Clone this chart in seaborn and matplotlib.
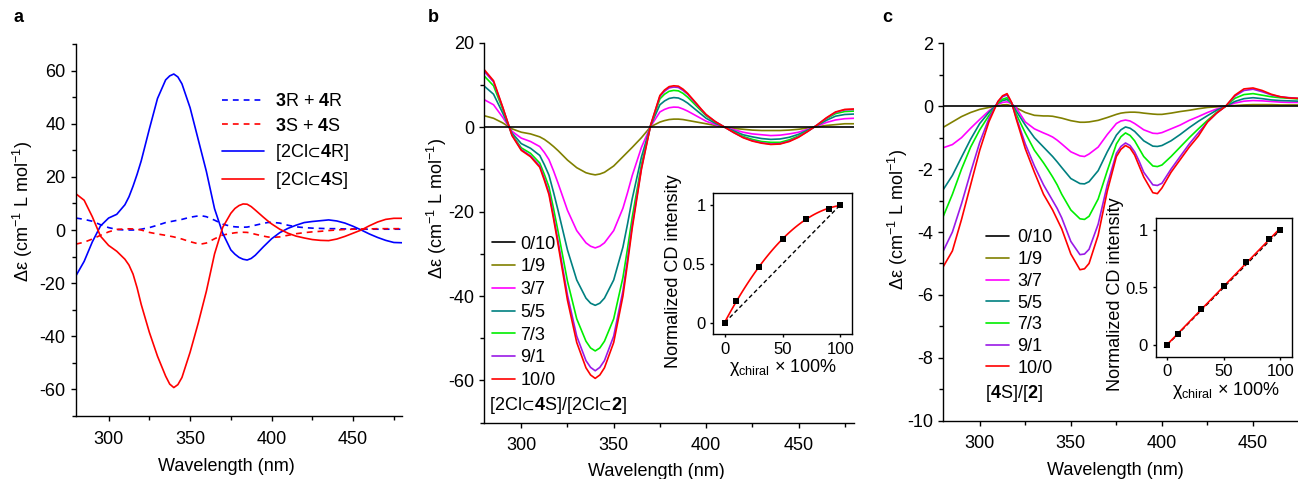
import matplotlib
matplotlib.use("Agg")
import matplotlib.pyplot as plt
from matplotlib.ticker import MultipleLocator
import seaborn as sns

# ---------------- data ----------------
wavelength = [280, 285, 290, 295, 300, 305, 310, 312.5, 315, 317.5,
              320, 325, 330, 335, 337.5, 340, 342.5, 345, 350, 355,
              357.5, 360, 365, 370, 375, 377.5, 380, 382.5, 385, 387.5,
              390, 395, 397.5, 400,
              405, 410, 415, 420, 425, 430, 435, 440, 445, 450, 455, 460, 465, 470, 475, 480]

# panel a
a_3R4R = [4.5, 4.0, 3.3, 2.0, 0.9, 0.2, 0.0, 0.0, 0.0, 0.1,
          0.3, 0.9, 1.8, 2.8, 3.1, 3.4, 3.7, 4.0, 4.8, 5.3,
          5.3, 5.0, 3.7, 2.2, 1.4, 1.2, 1.1, 1.05, 1.1, 1.4,
          1.8, 2.5, 2.8, 2.9,
          2.6, 1.8, 1.2, 0.9, 0.7, 0.6, 0.5, 0.5, 0.4, 0.4, 0.3, 0.3, 0.3, 0.3, 0.3, 0.3]
a_3S4S = [-5.3, -4.6, -3.4, -2.0, -0.7, 0.2, 0.4, 0.45, 0.4, 0.25,
          0.0, -0.9, -1.5, -2.0, -2.3, -2.6, -3.0, -3.4, -4.4, -5.2,
          -5.2, -4.9, -3.3, -1.9, -1.3, -1.05, -0.9, -0.85, -0.9, -1.2,
          -1.6, -2.3, -2.6, -2.8,
          -2.6, -2.0, -1.4, -1.0, -0.7, -0.5, -0.2, 0.0, 0.2, 0.3, 0.4, 0.4, 0.5, 0.5, 0.5, 0.5]
a_4R = [-17.2, -11.8, -4.5, 1.5, 4.5, 5.9, 9.5, 12.5, 16.5, 21.0,
        26.0, 38.0, 49.5, 56.5, 58.0, 58.7, 57.6, 55.0, 46.0, 34.0,
        28.0, 22.0, 8.0, -1.2, -7.5, -9.1, -10.3, -11.0, -11.3, -10.7,
        -9.5, -6.3, -4.8, -3.3,
        -1.0, 0.6, 1.8, 2.8, 3.2, 3.5, 3.8, 3.4, 2.6, 1.4, 0.0, -1.5, -2.8, -3.9, -4.7, -4.8]
a_4S = [13.6, 11.2, 5.0, -2.3, -5.8, -8.0, -11.0, -13.2, -16.6, -21.8,
        -28.0, -38.5, -47.5, -55.0, -58.0, -59.3, -58.2, -55.5, -46.0, -35.0,
        -29.0, -23.0, -9.0, 1.0, 6.3, 8.1, 9.2, 9.8, 9.7, 8.8,
        7.5, 4.8, 3.5, 2.3,
        0.3, -1.2, -2.3, -3.0, -3.6, -3.9, -4.0, -3.4, -2.4, -1.2, 0.0, 1.6, 3.0, 4.0, 4.4, 4.4]
a_labels = [r"$\mathbf{3}$R + $\mathbf{4}$R", r"$\mathbf{3}$S + $\mathbf{4}$S",
            r"[2Cl$\!\subset\!\mathbf{4}$R]", r"[2Cl$\!\subset\!\mathbf{4}$S]"]

# panel b  ([2Cl⊂4S]/[2Cl⊂2] ratios)
ratio_labels = ["0/10", "1/9", "3/7", "5/5", "7/3", "9/1", "10/0"]
b_0 = [0.0] * 50
b_10 = [2.7, 2.1, 1.0, -0.4, -1.2, -1.6, -2.3, -2.9, -3.7, -4.6,
        -5.6, -7.8, -9.6, -10.8, -11.1, -11.3, -11.1, -10.7, -9.2, -7.0,
        -5.9, -4.8, -2.5, 0.1, 1.2, 1.55, 1.8, 1.9, 1.9, 1.8,
        1.6, 1.2, 1.0, 0.8,
        0.4, 0.0, -0.3, -0.5, -0.7, -0.8, -0.8, -0.8, -0.7, -0.5, -0.2, 0.1, 0.4, 0.6, 0.8, 0.8]
b_30 = [6.5, 5.3, 2.3, -1.0, -2.6, -3.4, -4.6, -6.0, -7.7, -10.4,
        -13.4, -19.7, -24.5, -27.4, -28.2, -28.6, -28.2, -27.4, -24.5, -19.2,
        -15.5, -11.5, -4.8, 0.2, 3.6, 4.2, 4.6, 4.75, 4.7, 4.3,
        3.8, 2.6, 2.0, 1.4,
        0.6, 0.0, -0.6, -1.2, -1.6, -1.8, -2.0, -1.9, -1.6, -1.2, -0.5, 0.2, 1.1, 1.7, 2.0, 2.1]
b_50 = [9.7, 7.8, 3.3, -1.4, -3.9, -5.0, -6.7, -8.9, -11.4, -15.5,
        -19.9, -29.1, -36.2, -40.5, -41.7, -42.2, -41.7, -40.5, -36.2, -28.4,
        -22.9, -17.0, -7.1, 0.4, 5.3, 6.2, 6.8, 7.0, 6.9, 6.4,
        5.7, 3.9, 3.0, 2.1,
        0.9, 0.0, -0.9, -1.8, -2.3, -2.7, -2.9, -2.8, -2.4, -1.7, -0.7, 0.4, 1.6, 2.6, 3.0, 3.1]
b_70 = [12.1, 9.8, 4.2, -1.8, -4.9, -6.2, -8.5, -11.2, -14.2, -19.4,
        -24.9, -36.5, -45.4, -50.7, -52.3, -53.0, -52.3, -50.7, -45.4, -35.6,
        -28.7, -21.4, -8.9, 0.4, 6.7, 7.8, 8.5, 8.7, 8.6, 8.0,
        7.1, 4.9, 3.8, 2.7,
        1.2, 0.0, -1.2, -2.2, -2.9, -3.4, -3.6, -3.6, -3.0, -2.1, -0.9, 0.4, 2.0, 3.2, 3.7, 3.8]
b_90 = [13.2, 10.7, 4.6, -1.9, -5.3, -6.8, -9.2, -12.2, -15.5, -21.2,
        -27.2, -39.8, -49.5, -55.3, -56.9, -57.7, -56.9, -55.3, -49.5, -38.8,
        -31.2, -23.3, -9.7, 0.5, 7.3, 8.5, 9.3, 9.5, 9.4, 8.7,
        7.8, 5.3, 4.1, 2.9,
        1.3, 0.0, -1.3, -2.4, -3.2, -3.7, -4.0, -3.9, -3.3, -2.3, -1.0, 0.5, 2.1, 3.5, 4.1, 4.2]
b_100 = [13.6, 11.0, 4.7, -2.0, -5.5, -7.0, -9.5, -12.6, -16.0, -21.8,
         -28.0, -41.0, -51.0, -57.0, -58.7, -59.5, -58.7, -57.0, -51.0, -40.0,
         -32.2, -24.0, -10.0, 0.5, 7.5, 8.8, 9.6, 9.8, 9.7, 9.0,
         8.0, 5.5, 4.2, 3.0,
         1.3, 0.0, -1.3, -2.5, -3.3, -3.8, -4.1, -4.0, -3.4, -2.4, -1.0, 0.5, 2.2, 3.6, 4.2, 4.3]

# panel c  ([4S]/[2] ratios)
c_0 = [0.0] * 50
c_10 = [-0.67, -0.5, -0.33, -0.2, -0.1, -0.04, 0.01, 0.04, 0.05, 0.01,
        -0.05, -0.2, -0.29, -0.31, -0.31, -0.32, -0.35, -0.38, -0.46, -0.51,
        -0.51, -0.5, -0.45, -0.36, -0.26, -0.22, -0.2, -0.19, -0.19, -0.2,
        -0.22, -0.25, -0.26, -0.26,
        -0.22, -0.17, -0.13, -0.08, -0.04, -0.02, 0.0, 0.02, 0.04, 0.05, 0.05, 0.05, 0.04, 0.04, 0.04, 0.04]
c_30 = [-1.32, -1.22, -1.0, -0.7, -0.42, -0.15, 0.06, 0.12, 0.14, 0.08,
        -0.05, -0.5, -0.72, -0.85, -0.91, -0.98, -1.08, -1.2, -1.45, -1.58,
        -1.6, -1.52, -1.3, -0.9, -0.55, -0.47, -0.44, -0.47, -0.55, -0.65,
        -0.75, -0.86, -0.87, -0.84,
        -0.72, -0.6, -0.45, -0.33, -0.2, -0.09, 0.0, 0.1, 0.16, 0.18, 0.17, 0.15, 0.13, 0.12, 0.12, 0.12]
c_50 = [-2.65, -2.2, -1.62, -1.05, -0.55, -0.2, 0.1, 0.18, 0.21, 0.1,
        -0.15, -0.6, -1.0, -1.3, -1.45, -1.6, -1.77, -1.95, -2.3, -2.46,
        -2.47, -2.4, -2.05, -1.45, -0.92, -0.75, -0.66, -0.7, -0.8, -0.95,
        -1.1, -1.27, -1.28, -1.25,
        -1.1, -0.9, -0.68, -0.48, -0.3, -0.13, 0.0, 0.15, 0.24, 0.27, 0.24, 0.2, 0.18, 0.17, 0.16, 0.16]
c_70 = [-3.5, -2.8, -2.0, -1.3, -0.75, -0.3, 0.1, 0.22, 0.27, 0.08,
        -0.25, -0.85, -1.4, -1.8, -2.02, -2.25, -2.5, -2.8, -3.3, -3.58,
        -3.6, -3.5, -2.95, -2.05, -1.2, -0.97, -0.85, -0.93, -1.1, -1.35,
        -1.6, -1.9, -1.92, -1.87,
        -1.6, -1.3, -1.0, -0.72, -0.45, -0.2, 0.0, 0.25, 0.37, 0.4, 0.35, 0.3, 0.27, 0.25, 0.23, 0.23]
c_90 = [-4.6, -4.0, -3.1, -2.1, -1.15, -0.4, 0.15, 0.3, 0.36, 0.1,
        -0.35, -1.2, -1.9, -2.5, -2.75, -3.0, -3.25, -3.55, -4.3, -4.72,
        -4.7, -4.55, -3.75, -2.5, -1.5, -1.28, -1.17, -1.25, -1.45, -1.75,
        -2.1, -2.5, -2.52, -2.45,
        -2.0, -1.6, -1.2, -0.85, -0.5, -0.22, 0.0, 0.32, 0.5, 0.54, 0.46, 0.36, 0.3, 0.27, 0.25, 0.25]
c_100 = [-5.1, -4.6, -3.6, -2.5, -1.4, -0.5, 0.15, 0.33, 0.4, 0.12,
         -0.4, -1.35, -2.1, -2.8, -3.05, -3.3, -3.6, -3.9, -4.7, -5.2,
         -5.17, -5.0, -4.1, -2.7, -1.6, -1.37, -1.25, -1.33, -1.55, -1.9,
         -2.25, -2.75, -2.78, -2.6,
         -2.1, -1.7, -1.3, -0.95, -0.5, -0.22, 0.0, 0.35, 0.55, 0.58, 0.5, 0.38, 0.3, 0.26, 0.25, 0.25]

# insets
chi = [0, 10, 30, 50, 70, 90, 100]
norm_b = [0.0, 0.187, 0.476, 0.71, 0.88, 0.966, 1.0]
norm_c = [0.0, 0.096, 0.316, 0.516, 0.72, 0.92, 1.0]
ideal_x = [0, 100]
ideal_y = [0.0, 1.0]

ratio_colors = ["#000000", "#808000", "#FF00FF", "#008080", "#00EE00", "#9A1AE6", "#FF0000"]

# ---------------- style ----------------
sns.set_theme(style="ticks")
plt.rcParams.update({
    "font.family": ["Liberation Sans", "DejaVu Sans"],
    "mathtext.fontset": "custom",
    "mathtext.rm": "Liberation Sans",
    "mathtext.it": "Liberation Sans:italic",
    "mathtext.bf": "Liberation Sans:bold",
    "mathtext.sf": "Liberation Sans",
    "mathtext.default": "regular",
    "mathtext.fallback": "stixsans",
    "axes.unicode_minus": False,
    "axes.edgecolor": "black",
    "axes.linewidth": 1.0,
    "text.color": "black",
    "axes.labelcolor": "black",
    "xtick.color": "black",
    "ytick.color": "black",
    "xtick.direction": "out",
    "ytick.direction": "out",
})

W, H = 1298, 479
fig = plt.figure(figsize=(W / 100, H / 100), dpi=100)
fig.patch.set_facecolor("white")


def px_axes(left, top, right, bottom):
    return fig.add_axes([left / W, 1 - bottom / H, (right - left) / W, (bottom - top) / H])


def style_main(ax, ylim, ymajor, yminor):
    ax.set_xlim(280, 480)
    ax.set_ylim(*ylim)
    ax.xaxis.set_major_locator(MultipleLocator(50))
    ax.xaxis.set_minor_locator(MultipleLocator(25))
    ax.yaxis.set_major_locator(MultipleLocator(ymajor))
    ax.yaxis.set_minor_locator(MultipleLocator(yminor))
    ax.tick_params(which="major", length=3.5, width=1.0, labelsize=13)
    ax.tick_params(which="minor", length=3.0, width=1.0)
    ax.tick_params(axis="x", which="major", pad=7)
    ax.tick_params(axis="y", which="major", pad=4)
    ax.set_facecolor("none")
    sns.despine(ax=ax)


def set_labels(ax, xl_pos, yl_pos):
    ax.set_xlabel("Wavelength (nm)", fontsize=13)
    ax.set_ylabel(r"Δε (cm$^{-1}$ L mol$^{-1}$)", fontsize=13)
    ax.xaxis.set_label_coords(*xl_pos)
    ax.yaxis.set_label_coords(*yl_pos)
    ax.xaxis.label.set_va("center")
    ax.yaxis.label.set_va("center")


def style_inset(ax, xl_pos, yl_pos):
    ax.set_xlim(-10, 110)
    ax.set_ylim(-0.1, 1.1)
    ax.set_xticks([0, 50, 100])
    ax.set_yticks([0, 0.5, 1])
    ax.set_yticklabels(["0", "0.5", "1"])
    ax.tick_params(length=2.5, width=1.0, labelsize=12, pad=3)
    for s in ax.spines.values():
        s.set_visible(True)
        s.set_linewidth(1.0)
    ax.set_xlabel(r"$\chi_{\mathrm{chiral}}$ × 100%", fontsize=13)
    ax.set_ylabel("Normalized CD intensity", fontsize=13)
    ax.xaxis.set_label_coords(*xl_pos)
    ax.yaxis.set_label_coords(*yl_pos)
    ax.xaxis.label.set_va("center")
    ax.yaxis.label.set_va("center")


LW = 1.2

# ---------------- panel a ----------------
axa = px_axes(76, 44, 402, 416)
sns.lineplot(x=wavelength, y=a_3R4R, ax=axa, color="#0000FF", lw=LW, linestyle=(0, (3.5, 3)),
             errorbar=None, label=a_labels[0])
sns.lineplot(x=wavelength, y=a_3S4S, ax=axa, color="#FF0000", lw=LW, linestyle=(0, (3.5, 3)),
             errorbar=None, label=a_labels[1])
sns.lineplot(x=wavelength, y=a_4R, ax=axa, color="#0000FF", lw=LW, errorbar=None, label=a_labels[2])
sns.lineplot(x=wavelength, y=a_4S, ax=axa, color="#FF0000", lw=LW, errorbar=None, label=a_labels[3])
style_main(axa, (-70, 70), 20, 10)
set_labels(axa, (0.462, -0.136), (-0.163, 0.549))
axa.legend(loc="upper left", bbox_to_anchor=(222 / W, 1 - 93.5 / H), bbox_transform=fig.transFigure,
           frameon=False, fontsize=13, handlelength=2.3, handletextpad=0.65, labelspacing=0.4,
           borderpad=0, borderaxespad=0)

# ---------------- panel b ----------------
axb = px_axes(484.3, 42.7, 854, 422.7)
b_series = [b_0, b_10, b_30, b_50, b_70, b_90, b_100]
for i in [1, 2, 3, 4, 5, 6, 0]:
    sns.lineplot(x=wavelength, y=b_series[i], ax=axb, color=ratio_colors[i], lw=LW,
                 errorbar=None, label=ratio_labels[i])
style_main(axb, (-70, 20), 20, 10)
set_labels(axb, (0.466, -0.129), (-0.128, 0.565))
h, l = axb.get_legend_handles_labels()
order = [l.index(r) for r in ratio_labels]
axb.legend([h[k] for k in order], [l[k] for k in order], loc="upper left",
           bbox_to_anchor=(491.7 / W, 1 - 235.5 / H), bbox_transform=fig.transFigure,
           frameon=False, fontsize=13, handlelength=1.3, handletextpad=0.3, labelspacing=0.32,
           borderpad=0, borderaxespad=0)
fig.text(489.3 / W, 1 - 405 / H, r"[2Cl$\!\subset\!\mathbf{4}$S]/[2Cl$\!\subset\!\mathbf{2}$]",
         fontsize=13, ha="left", va="center")

insb = px_axes(713.3, 193.3, 851.7, 334.3)
sns.lineplot(x=ideal_x, y=ideal_y, ax=insb, color="black", lw=1.0, linestyle=(0, (3, 2)), errorbar=None)
sns.regplot(x=chi, y=norm_b, ax=insb, order=2, ci=None, scatter=False, color="#FF0000",
            line_kws=dict(lw=1.2))
sns.scatterplot(x=chi, y=norm_b, ax=insb, color="black", marker="s", s=22, edgecolor="black",
                linewidth=0, zorder=5)
style_inset(insb, (0.506, -0.239), (-0.285, 0.445))

# ---------------- panel c ----------------
axc = px_axes(943.3, 43.3, 943.3 + 200 * 1.822, 420.7)
c_series = [c_0, c_10, c_30, c_50, c_70, c_90, c_100]
for i in [1, 2, 3, 4, 5, 6, 0]:
    sns.lineplot(x=wavelength, y=c_series[i], ax=axc, color=ratio_colors[i], lw=LW,
                 errorbar=None, label=ratio_labels[i])
style_main(axc, (-10, 2), 2, 1)
set_labels(axc, (0.473, -0.131), (-0.1235, 0.532))
h, l = axc.get_legend_handles_labels()
order = [l.index(r) for r in ratio_labels]
axc.legend([h[k] for k in order], [l[k] for k in order], loc="upper left",
           bbox_to_anchor=(985.7 / W, 1 - 229.5 / H), bbox_transform=fig.transFigure,
           frameon=False, fontsize=13, handlelength=1.3, handletextpad=0.45, labelspacing=0.26,
           borderpad=0, borderaxespad=0)
fig.text(985 / W, 1 - 393.3 / H, r"[$\mathbf{4}$S]/[$\mathbf{2}$]",
         fontsize=13, ha="left", va="center")

insc = px_axes(1155.7, 218.3, 1291.7, 356.7)
sns.lineplot(x=ideal_x, y=ideal_y, ax=insc, color="black", lw=1.0, linestyle=(0, (3, 2)), errorbar=None)
sns.regplot(x=chi, y=norm_c, ax=insc, order=1, ci=None, scatter=False, color="#FF0000",
            line_kws=dict(lw=1.2))
sns.scatterplot(x=chi, y=norm_c, ax=insc, color="black", marker="s", s=22, edgecolor="black",
                linewidth=0, zorder=5)
style_inset(insc, (0.516, -0.241), (-0.295, 0.453))

# panel letters
for x, letter in [(13, "a"), (428, "b"), (882, "c")]:
    fig.text(x / W, 1 - 18 / H, letter, fontsize=13, fontweight="bold", ha="left", va="center")

fig.savefig("out.png", dpi=100)
